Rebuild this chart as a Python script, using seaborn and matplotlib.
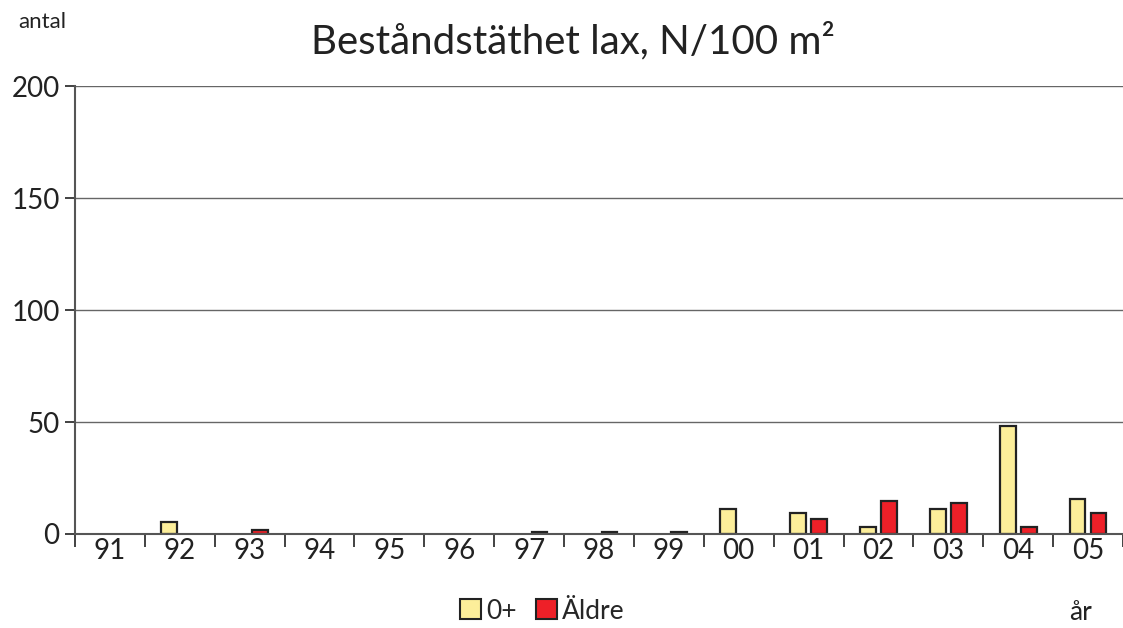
import matplotlib
matplotlib.use("Agg")
import matplotlib.pyplot as plt
import numpy as np
import pandas as pd
import seaborn as sns
from matplotlib.patches import Patch

years = ["91", "92", "93", "94", "95", "96", "97", "98", "99", "00", "01", "02", "03", "04", "05"]
young = [0, 5.5, 0, 0, 0, 0, 0, 0, 0, 11, 9.2, 3, 11, 48, 15.5]
older = [0, 0, 2, 0, 0, 0, 0.8, 0.8, 0.8, 0, 6.7, 14.7, 13.7, 3, 9.4]
groups = ["0+", "Äldre"]
colors = ["#FCEE9A", "#EE2028"]

df = pd.DataFrame({
    "year": years * 2,
    "group": [groups[0]] * len(years) + [groups[1]] * len(years),
    "value": young + older,
})
# zero values are not drawn at all
df["value"] = df["value"].replace(0, np.nan)

sns.set_theme(style="white")
plt.rcParams["font.family"] = ["Lato", "DejaVu Sans"]

fig = plt.figure(figsize=(11.23, 6.28), dpi=100)
ax = fig.add_axes([0.0668, 0.1497, 0.9332, 0.7133])

sns.barplot(data=df, x="year", y="value", hue="group", order=years, hue_order=groups,
            palette=colors, saturation=1, width=0.6, gap=0.25, edgecolor="#222222", linewidth=1.6,
            legend=False, ax=ax)

ax.set_ylim(0, 200)
ax.set_xlim(-0.5, len(years) - 0.5)
ax.set_yticks([0, 50, 100, 150, 200])
ax.yaxis.grid(True, color="#666666", linewidth=1)
ax.set_axisbelow(True)
for s in ["top", "right"]:
    ax.spines[s].set_visible(False)
for s in ["left", "bottom"]:
    ax.spines[s].set_color("#555555")
    ax.spines[s].set_linewidth(1.5)

ax.set_xticks(range(len(years)))
ax.set_xticklabels(years)
ax.set_xticks([i - 0.5 for i in range(len(years) + 1)], minor=True)
ax.tick_params(axis="x", which="major", length=0, labelsize=20, pad=3, colors="#222222")
ax.tick_params(axis="x", which="minor", length=9, width=1.3, color="#333333", direction="out", bottom=True)
ax.tick_params(axis="y", length=7, width=1.3, color="#333333", direction="out", left=True,
               labelsize=20, labelcolor="#222222", pad=4)
ax.set_xlabel("")
ax.set_ylabel("")

fig.text(0.51, 0.935, "Beståndstäthet lax, N/100 m²", ha="center", va="center", fontsize=29, color="#222222")
fig.text(0.016, 0.965, "antal", ha="left", va="center", fontsize=16, color="#222222")
fig.text(0.952, 0.025, "år", ha="left", va="center", fontsize=19, color="#222222")

handles = [Patch(facecolor=c, edgecolor="#222222", linewidth=1.5, label=g) for c, g in zip(colors, groups)]
fig.legend(handles=handles, loc="center", bbox_to_anchor=(0.483, 0.027), ncol=2, frameon=False,
           fontsize=19, handlelength=0.8, handleheight=0.8, handletextpad=0.2, columnspacing=0.7)

fig.savefig("out.png", dpi=100)
